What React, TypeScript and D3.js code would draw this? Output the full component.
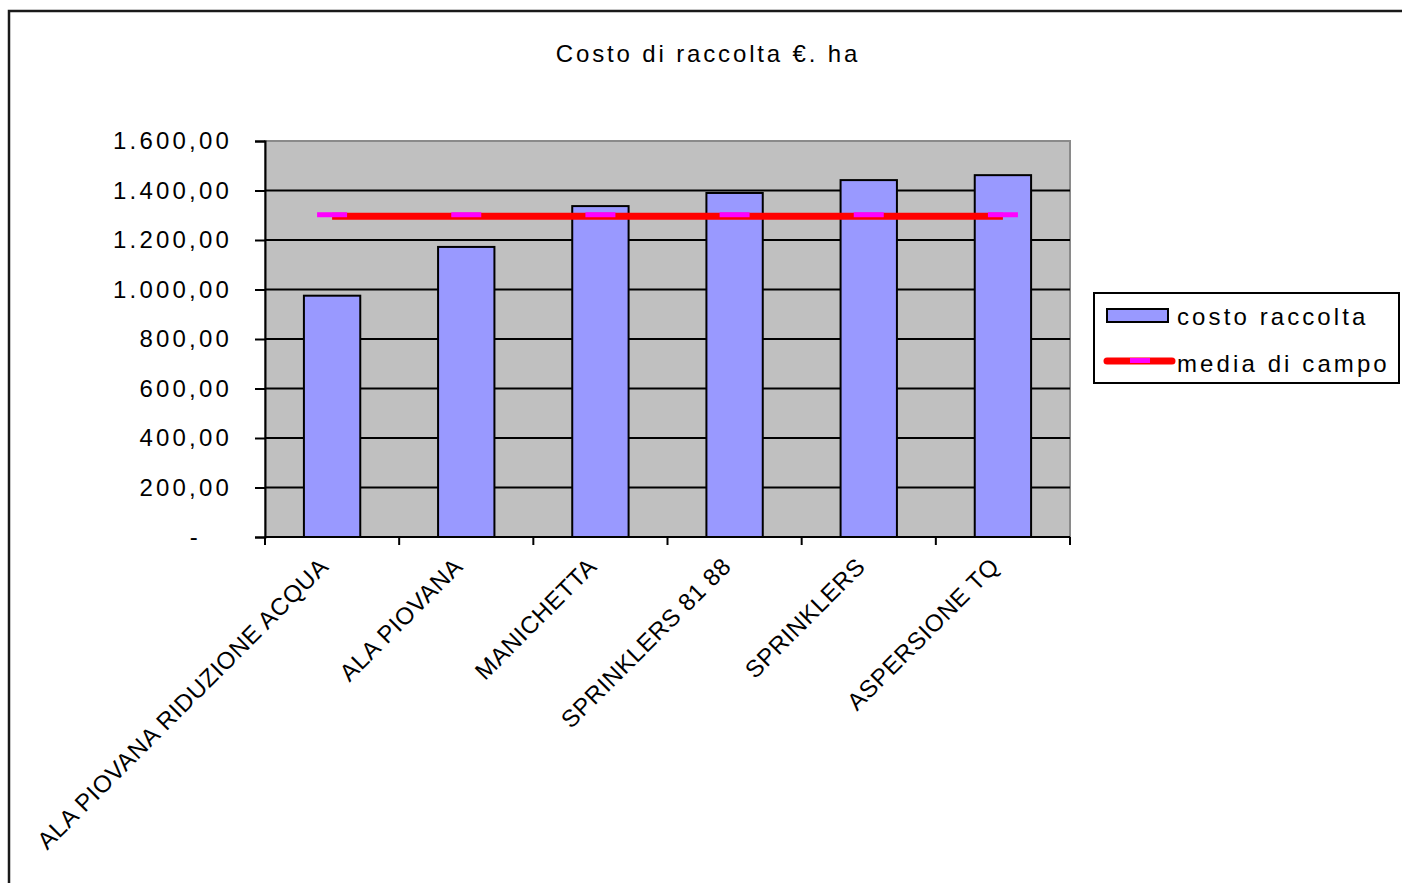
import * as d3 from "d3";
import { useEffect, useRef } from "react";

// data
const categories = [
  "ALA PIOVANA RIDUZIONE ACQUA",
  "ALA PIOVANA",
  "MANICHETTA",
  "SPRINKLERS 81 88",
  "SPRINKLERS",
  "ASPERSIONE TQ",
];
const costoRaccolta = [975, 1172, 1337, 1390, 1442, 1462];
const mediaDiCampo = [1296, 1296, 1296, 1296, 1296, 1296];
const yTicks = [0, 200, 400, 600, 800, 1000, 1200, 1400, 1600];
const titleText = "Costo di raccolta €. ha";
const legendLabels = ["costo raccolta", "media di campo"];

const FONT = "'Liberation Sans', Arial, sans-serif";

const App: React.FC = () => {
  const svgRef = useRef<SVGSVGElement | null>(null);

  useEffect(() => {
    const width = 1402;
    const height = 883;
    const plot = { left: 265, right: 1070, top: 141, bottom: 537 };

    const svg = d3.select(svgRef.current);
    svg.selectAll("*").remove();
    svg.attr("width", width).attr("height", height);

    // outer chart frame (cut off at right and bottom)
    svg
      .append("rect")
      .attr("x", 9)
      .attr("y", 11)
      .attr("width", 1420)
      .attr("height", 900)
      .attr("fill", "#fff")
      .attr("stroke", "#1a1a1a")
      .attr("stroke-width", 2.5);

    svg
      .append("text")
      .attr("x", 708)
      .attr("y", 62)
      .attr("text-anchor", "middle")
      .attr("font-family", FONT)
      .attr("font-size", 24)
      .attr("letter-spacing", 2.85)
      .text(titleText);

    const x = d3
      .scaleBand<string>()
      .domain(categories)
      .range([plot.left, plot.right])
      .padding(0);

    const y = d3.scaleLinear().domain([0, 1600]).range([plot.bottom, plot.top]);

    // plot area
    svg
      .append("rect")
      .attr("x", plot.left)
      .attr("y", plot.top)
      .attr("width", plot.right - plot.left)
      .attr("height", plot.bottom - plot.top)
      .attr("fill", "#c0c0c0")
      .attr("stroke", "#8a8a8a")
      .attr("stroke-width", 2);

    // gridlines
    svg
      .append("g")
      .selectAll("line")
      .data(yTicks.filter((t) => t > 0 && t < 1600))
      .enter()
      .append("line")
      .attr("x1", plot.left)
      .attr("x2", plot.right)
      .attr("y1", (d) => y(d))
      .attr("y2", (d) => y(d))
      .attr("stroke", "#000")
      .attr("stroke-width", 2);

    // bars
    const barW = x.bandwidth() * 0.42;
    svg
      .append("g")
      .selectAll("rect")
      .data(costoRaccolta)
      .enter()
      .append("rect")
      .attr("x", (_, i) => (x(categories[i]) as number) + x.bandwidth() / 2 - barW / 2)
      .attr("y", (d) => y(d))
      .attr("width", barW)
      .attr("height", (d) => y(0) - y(d))
      .attr("fill", "#9999ff")
      .attr("stroke", "#000")
      .attr("stroke-width", 2);

    // y axis
    const it = d3.formatLocale({
      decimal: ",",
      thousands: ".",
      grouping: [3],
      currency: ["€", ""],
    });
    const fmt = it.format(",.2f");
    const yAxis = d3
      .axisLeft(y)
      .tickValues(yTicks)
      .tickSize(10)
      .tickPadding(23)
      .tickFormat((d) => ((d as number) === 0 ? "-" : fmt(d as number)));
    const yg = svg
      .append("g")
      .attr("transform", `translate(${plot.left},0)`)
      .call(yAxis);
    yg.select(".domain").attr("stroke", "#000").attr("stroke-width", 2);
    yg.selectAll(".tick line").attr("stroke", "#000").attr("stroke-width", 2);
    yg.selectAll(".tick text")
      .attr("font-family", FONT)
      .attr("font-size", 24)
      .attr("letter-spacing", 3.2)
      .attr("fill", "#000")
      .attr("dx", (d) => ((d as number) === 0 ? -31 : 0));

    // x axis line + ticks at category boundaries
    svg
      .append("line")
      .attr("x1", plot.left)
      .attr("x2", plot.right)
      .attr("y1", y(0))
      .attr("y2", y(0))
      .attr("stroke", "#000")
      .attr("stroke-width", 2);
    const bounds = categories.map((c) => x(c) as number).concat([plot.right]);
    svg
      .append("g")
      .selectAll("line")
      .data(bounds)
      .enter()
      .append("line")
      .attr("x1", (d) => d)
      .attr("x2", (d) => d)
      .attr("y1", y(0))
      .attr("y2", y(0) + 8)
      .attr("stroke", "#000")
      .attr("stroke-width", 2);

    // rotated category labels
    svg
      .append("g")
      .selectAll("text")
      .data(categories)
      .enter()
      .append("text")
      .attr("transform", (d) => {
        const cx = (x(d) as number) + x.bandwidth() / 2 - 8;
        return `translate(${cx},${y(0) + 25}) rotate(-45)`;
      })
      .attr("text-anchor", "end")
      .attr("dy", "0.35em")
      .attr("font-family", FONT)
      .attr("font-size", 24)
      .attr("letter-spacing", 0.6)
      .text((d) => d);

    // media di campo line with dash markers
    const cxOf = (i: number) => (x(categories[i]) as number) + x.bandwidth() / 2;
    const line = d3
      .line<number>()
      .x((_, i) => cxOf(i))
      .y((d) => y(d));
    svg
      .append("path")
      .attr("d", line(mediaDiCampo) as string)
      .attr("fill", "none")
      .attr("stroke", "#ff0000")
      .attr("stroke-width", 7);
    svg
      .append("g")
      .selectAll("rect")
      .data(mediaDiCampo)
      .enter()
      .append("rect")
      .attr("x", (_, i) => cxOf(i) - 15)
      .attr("y", (d) => y(d) - 4)
      .attr("width", 30)
      .attr("height", 5)
      .attr("fill", "#ff00ff");

    // legend
    const lg = svg.append("g");
    lg.append("rect")
      .attr("x", 1094)
      .attr("y", 293)
      .attr("width", 305)
      .attr("height", 90)
      .attr("fill", "#fff")
      .attr("stroke", "#000")
      .attr("stroke-width", 2);
    lg.append("rect")
      .attr("x", 1107)
      .attr("y", 309)
      .attr("width", 61)
      .attr("height", 13)
      .attr("fill", "#9999ff")
      .attr("stroke", "#000")
      .attr("stroke-width", 2);
    lg.append("line")
      .attr("x1", 1107)
      .attr("x2", 1172)
      .attr("y1", 361)
      .attr("y2", 361)
      .attr("stroke", "#ff0000")
      .attr("stroke-width", 7)
      .attr("stroke-linecap", "round");
    lg.append("rect")
      .attr("x", 1130)
      .attr("y", 358)
      .attr("width", 20)
      .attr("height", 5)
      .attr("fill", "#ff00ff");
    lg.selectAll("text.leg")
      .data(legendLabels)
      .enter()
      .append("text")
      .attr("class", "leg")
      .attr("x", 1177)
      .attr("y", (_, i) => 325 + i * 47)
      .attr("font-family", FONT)
      .attr("font-size", 24)
      .attr("letter-spacing", 3.1)
      .text((d) => d);
  }, []);

  return (
    <svg
      ref={svgRef}
      style={{ position: "absolute", left: 0, top: 0, background: "#fff" }}
    />
  );
};

export default App;
